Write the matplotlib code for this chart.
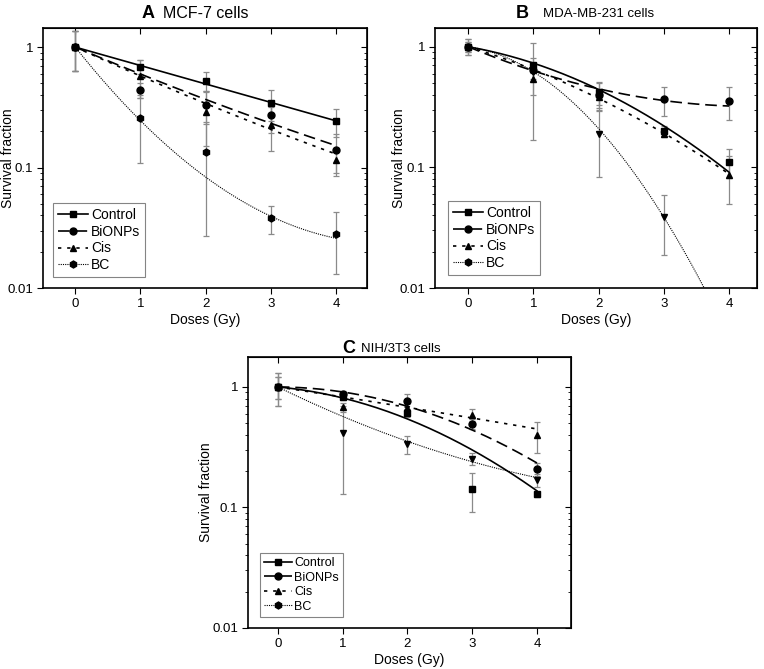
import numpy as np
import matplotlib
matplotlib.use('Agg')
import matplotlib.pyplot as plt
from matplotlib.lines import Line2D
from matplotlib.ticker import LogLocator, NullFormatter, FixedLocator, FixedFormatter

plt.rcParams['font.family'] = ['Liberation Sans', 'DejaVu Sans']

# 조사 선량 (Gy)
doses = [0, 1, 2, 3, 4]
series_names = ['Control', 'BiONPs', 'Cis', 'BC']

# A: MCF-7
a_control = [1.0, 0.69, 0.52, 0.343, 0.243]
a_control_err = [0.37, 0.09, 0.10, 0.10, 0.065]
a_bionps = [1.0, 0.44, 0.33, 0.273, 0.14]
a_bionps_err = [0.37, 0.06, 0.10, 0.08, 0.05]
a_cis = [1.0, 0.575, 0.29, 0.227, 0.115]
a_cis_err = [0.37, 0.20, 0.14, 0.09, 0.03]
a_bc = [1.0, 0.257, 0.134, 0.038, 0.028]
a_bc_err = [0.37, 0.147, 0.107, 0.01, 0.015]

# B: MDA-MB-231
b_control = [1.0, 0.71, 0.42, 0.202, 0.111]
b_control_err = [0.15, 0.10, 0.09, 0.02, 0.03]
b_bionps = [1.0, 0.64, 0.40, 0.368, 0.356]
b_bionps_err = [0.15, 0.10, 0.10, 0.10, 0.11]
b_cis = [1.0, 0.54, 0.38, 0.19, 0.087]
b_cis_err = [0.10, 0.14, 0.07, 0.01, 0.037]
b_bc = [1.0, 0.62, 0.19, 0.0386, np.nan]
b_bc_err = [0.10, 0.45, 0.106, 0.02, np.nan]

# C: NIH/3T3
c_control = [1.0, 0.83, 0.61, 0.142, 0.129]
c_control_err = [0.30, 0.05, 0.05, 0.05, 0.006]
c_bionps = [1.0, 0.875, 0.765, 0.495, 0.208]
c_bionps_err = [0.30, 0.05, 0.11, 0.05, 0.024]
c_cis = [1.0, 0.68, 0.67, 0.59, 0.396]
c_cis_err = [0.20, 0.06, 0.05, 0.07, 0.115]
c_bc = [1.0, 0.415, 0.336, 0.253, 0.169]
c_bc_err = [0.20, 0.285, 0.057, 0.03, 0.02]

# 곡선 피팅 파라미터: log10 S = -(alpha*D + beta*D^2)
a_alpha = [0.153, 0.23, 0.246, 0.682]
a_beta = [0.0, -0.0064, -0.006, -0.0713]
b_alpha = [0.0947, 0.226, 0.165, 0.076]
b_beta = [0.0413, -0.0258, 0.0246, 0.1317]
c_alpha = [0.05, 0.003, 0.082, 0.263]
c_beta = [0.0414, 0.0387, 0.0013, -0.0187]

styles = ['-', (0, (7, 3.5)), (0, (2, 3.5)), (0, (1, 1))]
widths = [1.2, 1.2, 1.2, 0.8]
legend_markers = ['s', 'o', '^', 'h']

panels = [
    dict(letter='A', name='MCF-7 cells',
         vals=[a_control, a_bionps, a_cis, a_bc],
         errs=[a_control_err, a_bionps_err, a_cis_err, a_bc_err],
         alpha=a_alpha, beta=a_beta, markers=['s', 'o', '^', 'h'],
         rect=[0.0563, 0.5695, 0.424, 0.3886], xlim=(-0.495, 4.475), ymax=1.44,
         title_pos=(0.343, 0.37, 1.054), tsize=11.5, lsize=10,
         leg_at=(0.031, 0.042), ylab_x=-0.086),
    dict(letter='B', name='MDA-MB-231 cells',
         vals=[b_control, b_bionps, b_cis, b_bc],
         errs=[b_control_err, b_bionps_err, b_cis_err, b_bc_err],
         alpha=b_alpha, beta=b_beta, markers=['s', 'o', '^', 'v'],
         rect=[0.5694, 0.5695, 0.4215, 0.3886], xlim=(-0.51, 4.43), ymax=1.43,
         title_pos=(0.292, 0.335, 1.054), tsize=9.5, lsize=10,
         leg_at=(0.04, 0.05), ylab_x=-0.09),
    dict(letter='C', name='NIH/3T3 cells',
         vals=[c_control, c_bionps, c_cis, c_bc],
         errs=[c_control_err, c_bionps_err, c_cis_err, c_bc_err],
         alpha=c_alpha, beta=c_beta, markers=['s', 'o', '^', 'v'],
         rect=[0.3246, 0.0613, 0.4228, 0.405], xlim=(-0.46, 4.525), ymax=1.77,
         title_pos=(0.331, 0.35, 1.03), tsize=9.5, lsize=9,
         leg_at=(0.037, 0.04), ylab_x=-0.108),
]

fig = plt.figure(figsize=(7.64, 6.69), dpi=100)

for p in panels:
    ax = fig.add_axes(p['rect'])
    ax.set_yscale('log')
    dense = np.linspace(0, 4, 200)
    for i in range(4):
        # 에러바 + 마커
        ax.errorbar(doses, p['vals'][i], yerr=p['errs'][i], fmt='none',
                    ecolor='#8a8a8a', elinewidth=0.9, capsize=2.5, capthick=0.9, zorder=2)
        ax.plot(doses, p['vals'][i], linestyle='none', marker=p['markers'][i],
                color='black', markersize=5, zorder=4)
        fit = 10 ** (-(p['alpha'][i] * dense + p['beta'][i] * dense ** 2))
        ax.plot(dense, fit, color='black', linestyle=styles[i], linewidth=widths[i], zorder=3)

    ax.set_xlim(*p['xlim'])
    ax.set_ylim(0.01, p['ymax'])
    ax.xaxis.set_major_locator(FixedLocator(doses))
    ax.yaxis.set_major_locator(FixedLocator([0.01, 0.1, 1]))
    ax.yaxis.set_major_formatter(FixedFormatter(['0.01', '0.1', '1']))
    ax.yaxis.set_minor_locator(LogLocator(base=10, subs=np.arange(2, 10)))
    ax.yaxis.set_minor_formatter(NullFormatter())
    # 왼쪽/아래 눈금은 바깥, 오른쪽/위는 안쪽
    ax.tick_params(axis='y', which='both', direction='out', labelsize=9.5, pad=3)
    ax.tick_params(axis='y', which='major', length=4)
    ax.tick_params(axis='y', which='minor', length=2.5)
    ax.tick_params(axis='x', direction='out', length=4, labelsize=9.5)
    sec_y = ax.secondary_yaxis('right')
    sec_y.yaxis.set_major_locator(FixedLocator([0.01, 0.1, 1]))
    sec_y.yaxis.set_minor_locator(LogLocator(base=10, subs=np.arange(2, 10)))
    sec_y.tick_params(which='both', direction='in', labelright=False)
    sec_y.tick_params(which='major', length=4)
    sec_y.tick_params(which='minor', length=2.5)
    ax.secondary_xaxis('top').tick_params(direction='in', length=4, labeltop=False)
    for s in ax.spines.values():
        s.set_linewidth(1.2)
    ax.set_xlabel('Doses (Gy)', fontsize=10, labelpad=2)
    ax.set_ylabel('Survival fraction', fontsize=10)
    ax.yaxis.set_label_coords(p['ylab_x'], 0.5)

    lx, tx, ty = p['title_pos']
    ax.text(lx, ty, p['letter'], transform=ax.transAxes, ha='right', va='center',
            fontsize=13, fontweight='bold')
    ax.text(tx, ty, p['name'], transform=ax.transAxes, ha='left', va='center',
            fontsize=p['tsize'])

    handles = [Line2D([0], [0], color='black', linestyle=styles[i], linewidth=widths[i],
                      marker=legend_markers[i], markersize=5) for i in range(4)]
    leg = ax.legend(handles, series_names, loc='lower left', bbox_to_anchor=p['leg_at'],
                    fontsize=p['lsize'], frameon=True, fancybox=False, handlelength=2.2,
                    handletextpad=0.2, borderpad=0.35, labelspacing=0.2, borderaxespad=0)
    leg.get_frame().set_edgecolor('#666666')
    leg.get_frame().set_linewidth(0.8)

fig.savefig('out.png', dpi=100)
